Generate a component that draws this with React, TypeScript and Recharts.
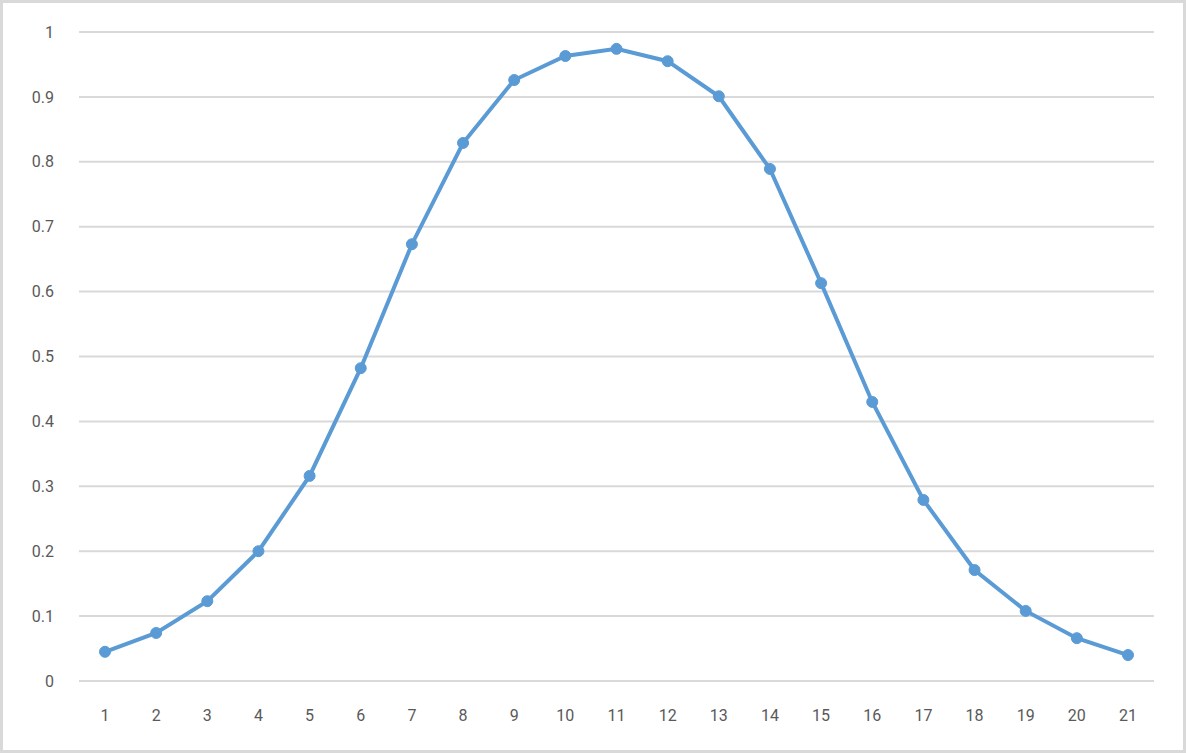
import { LineChart, Line, XAxis, YAxis, CartesianGrid } from 'recharts';

// x categories 1..21
const categories = ['1', '2', '3', '4', '5', '6', '7', '8', '9', '10', '11', '12', '13', '14', '15', '16', '17', '18', '19', '20', '21'];

// values
const values = [
  0.045, 0.074, 0.123, 0.2, 0.316, 0.482, 0.673, 0.829, 0.926, 0.963, 0.974,
  0.955, 0.901, 0.789, 0.613, 0.43, 0.279, 0.171, 0.108, 0.066, 0.04,
];

const yTicks = [0, 0.1, 0.2, 0.3, 0.4, 0.5, 0.6, 0.7, 0.8, 0.9, 1];

const data = categories.map((c, i) => ({ x: c, value: values[i] }));

const LINE_COLOR = '#5b9bd5';
const GRID_COLOR = '#d9d9d9';
const TEXT_COLOR = '#595959';
const FONT = { fill: TEXT_COLOR, fontSize: 16, fontFamily: 'Roboto' };

export default function App() {
  return (
    <div
      style={{
        position: 'absolute',
        left: 0,
        top: 0,
        width: 1186,
        height: 753,
        boxSizing: 'border-box',
        border: `3px solid ${GRID_COLOR}`,
        background: '#fff',
      }}
    >
      <div style={{ position: 'absolute', left: -3, top: -3 }}>
        <LineChart
          width={1186}
          height={753}
          data={data}
          margin={{ top: 32, right: 32, bottom: 42, left: 0 }}
        >
          <CartesianGrid vertical={false} stroke={GRID_COLOR} strokeWidth={2} />
          <XAxis
            dataKey="x"
            padding={{ left: 26, right: 26 }}
            tickLine={false}
            axisLine={{ stroke: GRID_COLOR, strokeWidth: 2 }}
            tickSize={0}
            tickMargin={29}
            interval={0}
            tick={FONT}
          />
          <YAxis
            width={79}
            domain={[0, 1]}
            ticks={yTicks}
            axisLine={false}
            tickLine={false}
            tickSize={0}
            tickMargin={25}
            tick={FONT}
          />
          <Line
            type="linear"
            dataKey="value"
            stroke={LINE_COLOR}
            strokeWidth={4}
            dot={{ r: 5.5, fill: LINE_COLOR, stroke: LINE_COLOR, strokeWidth: 1 }}
            isAnimationActive={false}
          />
        </LineChart>
      </div>
    </div>
  );
}
